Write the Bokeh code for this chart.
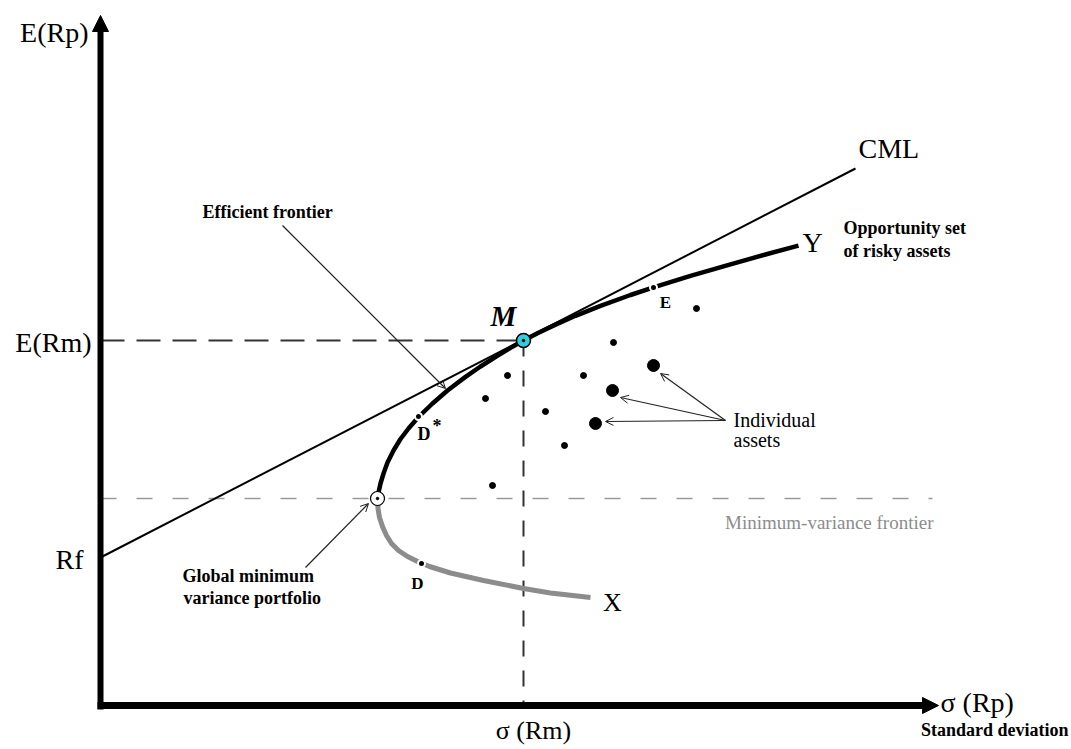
from bokeh.plotting import figure
from bokeh.models import Range1d, Arrow, NormalHead, OpenHead
from bokeh.embed import file_html
from bokeh.resources import INLINE
from bokeh.core.properties import value

# ---------------- data (sigma, expected return) in diagram units ----------------
rf = 148
m_point = (423, 365)            # market portfolio M: sigma(Rm), E(Rm)
gmv_point = (277, 207)          # global minimum variance portfolio

cml_sigma = [0, 755]
cml_ret = [148, 537]

# efficient (upper) part of the minimum-variance frontier, GMV -> Y
upper_sigma = [277, 278, 280, 283, 287, 293, 300, 308, 318, 332, 347, 365, 380, 396,
               410, 423, 437, 455, 475, 500, 530, 553, 590, 630, 665, 698]
upper_ret = [207, 213, 222, 232, 243, 255, 266.5, 277, 288.5, 302, 315, 328.6, 339,
             349.2, 357.6, 365, 372.3, 380.9, 389.7, 399.7, 410.5, 418.1, 429.6,
             441.2, 451, 459.9]

# inefficient (lower) part, GMV -> X
lower_sigma = [277, 277.5, 279, 282, 286, 291, 298, 307, 317, 329, 350, 383, 423, 450, 490]
lower_ret = [207, 197, 188, 179, 170, 162, 155, 149, 144, 139, 132.5, 125, 117, 112.5, 108]

# individual risky assets
asset_sigma = [385, 407, 445, 464, 483, 513, 392, 596]
asset_ret = [307, 330, 294, 260, 330, 363, 220, 397]
big_asset_sigma = [553, 512, 495]
big_asset_ret = [340, 315, 282]

# named portfolios on the frontier: D*, E, D
named_sigma = [318, 553, 321]
named_ret = [289, 418, 142]

axis_x_end = 838
axis_y_end = 690

# ---------------- figure ----------------
p = figure(width=1071, height=749, x_range=Range1d(-100, 971), y_range=Range1d(-44, 705),
           output_backend="svg", toolbar_location=None, min_border=0,
           x_axis_location=None, y_axis_location=None)
p.grid.visible = False
p.outline_line_color = None
p.background_fill_color = "white"
p.border_fill_color = "white"

# reference dashed lines
p.line([0, gmv_point[0] + 555], [gmv_point[1], gmv_point[1]], line_color="#9a9a9a",
       line_width=1.5, line_dash="16 20")
p.line([0, m_point[0]], [m_point[1], m_point[1]], line_color="#333333", line_width=2,
       line_dash="24 12")
p.line([m_point[0], m_point[0]], [m_point[1], 0], line_color="#333333", line_width=2,
       line_dash="16 14")

# axes
p.segment(x0=[0], y0=[-4], x1=[0], y1=[axis_y_end - 10], line_color="black", line_width=6)
p.segment(x0=[-3], y0=[0], x1=[axis_x_end - 9], y1=[0], line_color="black", line_width=7)
p.add_layout(Arrow(end=NormalHead(size=16, fill_color="black", line_color="black", line_width=1),
                   x_start=0, y_start=axis_y_end - 12, x_end=0, y_end=axis_y_end,
                   line_alpha=0))
p.add_layout(Arrow(end=NormalHead(size=16, fill_color="black", line_color="black", line_width=1),
                   x_start=axis_x_end - 12, y_start=0, x_end=axis_x_end, y_end=0,
                   line_alpha=0))

# frontier
p.line(lower_sigma, lower_ret, line_color="#8c8c8c", line_width=5)
p.line(upper_sigma, upper_ret, line_color="black", line_width=4.5)

# CML
p.line(cml_sigma, cml_ret, line_color="black", line_width=2)

# assets
p.scatter(asset_sigma, asset_ret, size=6, color="black")
p.scatter(big_asset_sigma, big_asset_ret, size=12, color="black")
p.scatter(named_sigma, named_ret, size=7, fill_color="black", line_color="white", line_width=2)

# M and GMV
p.scatter([m_point[0]], [m_point[1]], size=14, fill_color="#33ccdd", line_color="black",
          line_width=1.5)
p.scatter([gmv_point[0]], [gmv_point[1]], size=14, fill_color="white", line_color="black",
          line_width=1.2)
p.scatter([m_point[0], gmv_point[0]], [m_point[1], gmv_point[1]], size=2.5, color="black")

# annotation arrows
def thin_arrow(x0, y0, x1, y1):
    p.add_layout(Arrow(end=OpenHead(size=8, line_width=1, line_color="#222222"),
                       x_start=x0, y_start=y0, x_end=x1, y_end=y1,
                       line_width=1.2, line_color="#222222"))

thin_arrow(182, 480, 345, 317)      # efficient frontier
thin_arrow(205, 138, 268, 202)      # global minimum variance portfolio
for bx, by in [(560, 332), (520, 308), (505, 284)]:
    thin_arrow(625, 285, bx, by)    # individual assets

# ---------------- texts ----------------
SERIF = "Liberation Serif"

def add_text(xs, ys, texts, size, style="normal", align="left", color="black"):
    p.text(x=xs, y=ys, text=texts, text_font=value(SERIF),
           text_font_size=value(f"{size}px"), text_font_style=style,
           text_align=align, text_baseline="middle", text_color=color)

add_text([-12, -9, -17], [673, 363, 146], ["E(Rp)", "E(Rm)", "Rf"], 28, align="right")
add_text([758], [557], ["CML"], 28)
add_text([433], [-25], ["σ (Rm)"], 26, align="center")
add_text([840], [3], ["σ (Rp)"], 28)
add_text([712], [463], ["Y"], 28, align="center")
add_text([512], [103], ["X"], 26, align="center")
add_text([403], [390], ["M"], 29, style="bold italic", align="center")

add_text([102, 743, 743, 82, 83], [494, 478, 455, 130, 108],
         ["Efficient frontier", "Opportunity set", "of risky assets",
          "Global minimum", "variance portfolio"], 18, style="bold")
add_text([968], [-24], ["Standard deviation"], 18, style="bold", align="right")
add_text([565, 317], [403, 122], ["E", "D"], 17, style="bold", align="center")
add_text([317], [272], ["D"], 18, style="bold")
add_text([332], [280], ["*"], 18, style="bold")

add_text([633, 633], [286, 266], ["Individual", "assets"], 20)
add_text([833], [183], ["Minimum-variance frontier"], 19, align="right", color="#8c8c8c")

open("out.html", "w").write(file_html(p, INLINE))
